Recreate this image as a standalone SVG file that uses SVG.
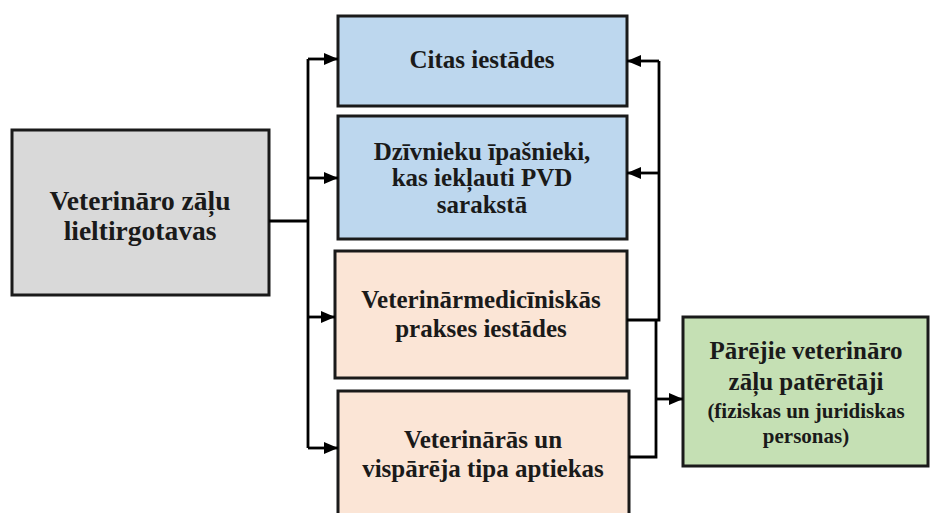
<svg xmlns="http://www.w3.org/2000/svg" width="931" height="513" viewBox="0 0 931 513">
<defs>
<style>
.box{stroke:#1a1a1a;stroke-width:3}
.gray{fill:#d9d9d9}
.blue{fill:#bdd7ee}
.peach{fill:#fbe5d6}
.green{fill:#c5e0b4}
.t{font-family:'Liberation Serif','Times New Roman','DejaVu Serif',serif;font-weight:bold;fill:#1a1a1a;text-anchor:middle}
.big{font-size:25px}
.large{font-size:27.5px}
.small{font-size:21px}
.line{fill:none;stroke:#000;stroke-width:2.8}
</style>
<marker id="arr" markerUnits="userSpaceOnUse" markerWidth="16" markerHeight="14" viewBox="0 0 16 14" refX="15" refY="7" orient="auto">
<path d="M1,1 L15,7 L1,13 Z" fill="#000"/>
</marker>
</defs>
<g id="n-lieltirgotavas">
<rect class="box gray" x="12" y="130" width="257" height="165"/>
<text class="t large" x="140" y="210">Veterināro zāļu</text>
<text class="t large" x="140" y="240">lieltirgotavas</text>
</g>
<g id="n-citas">
<rect class="box blue" x="338" y="16" width="289" height="90"/>
<text class="t big" x="482" y="68">Citas iestādes</text>
</g>
<g id="n-ipasnieki">
<rect class="box blue" x="338" y="116" width="289" height="123"/>
<text class="t big" x="482" y="160">Dzīvnieku īpašnieki,</text>
<text class="t big" x="482" y="186">kas iekļauti PVD</text>
<text class="t big" x="482" y="213">sarakstā</text>
</g>
<g id="n-prakses">
<rect class="box peach" x="335" y="251" width="292" height="127"/>
<text class="t big" x="481" y="308">Veterinārmedicīniskās</text>
<text class="t big" x="481" y="337">prakses iestādes</text>
</g>
<g id="n-aptiekas">
<rect class="box peach" x="338" y="391" width="291" height="135"/>
<text class="t big" x="483" y="448">Veterinārās un</text>
<text class="t big" x="483" y="477">vispārēja tipa aptiekas</text>
</g>
<g id="n-pateretaji">
<rect class="box green" x="683" y="317" width="245" height="149"/>
<text class="t big" x="806" y="359">Pārējie veterināro</text>
<text class="t big" x="806" y="390">zāļu patērētāji</text>
<text class="t small" x="806" y="418">(fiziskas un juridiskas</text>
<text class="t small" x="806" y="443">personas)</text>
</g>
<g id="connectors">
<path class="line" d="M269,221 H308"/>
<path class="line" d="M308,59 V448"/>
<path class="line" d="M308,59 H338" marker-end="url(#arr)"/>
<path class="line" d="M308,178 H338" marker-end="url(#arr)"/>
<path class="line" d="M308,317 H335" marker-end="url(#arr)"/>
<path class="line" d="M308,448 H338" marker-end="url(#arr)"/>
<path class="line" d="M627,320 H659 V61"/>
<path class="line" d="M659,61 H627" marker-end="url(#arr)"/>
<path class="line" d="M659,173 H627" marker-end="url(#arr)"/>
<path class="line" d="M629,457 H656 V320"/>
<path class="line" d="M656,399 H683" marker-end="url(#arr)"/>
</g>
</svg>
